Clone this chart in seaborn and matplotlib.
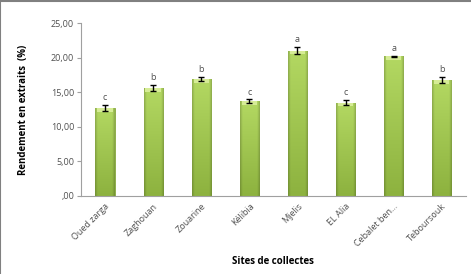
import numpy as np
import pandas as pd
import matplotlib
matplotlib.use("Agg")
import matplotlib.pyplot as plt
import seaborn as sns
from matplotlib.lines import Line2D
from matplotlib.colors import to_rgb

sites = ["Oued zarga", "Zaghouan", "Zouarine", "Kélibia", "Mjelis", "EL Alia", "Cebalet ben…", "Teboursouk"]
rendement = [12.75, 15.55, 16.90, 13.70, 21.00, 13.50, 20.20, 16.80]
erreur = [0.45, 0.45, 0.30, 0.25, 0.50, 0.40, 0.10, 0.45]
lettres = ["c", "b", "b", "c", "a", "c", "a", "b"]
yticks = [0, 5, 10, 15, 20, 25]
ytick_labels = [",00", "5,00", "10,00", "15,00", "20,00", "25,00"]

df = pd.DataFrame({"site": sites, "val": rendement})

sns.set_theme(style="white")
plt.rcParams["font.family"] = ["Open Sans", "DejaVu Sans"]

fig = plt.figure(figsize=(4.71, 2.74), dpi=100)
ax = fig.add_axes([0.172, 0.285, 0.817, 0.631])

sns.barplot(data=df, x="site", y="val", ax=ax, color="#9dc44d", width=0.4,
            edgecolor="#86a83c", linewidth=0.6, errorbar=None, zorder=2)

# shading texture for bars: lighter top, darker bottom, darker sides
top_c = np.array(to_rgb("#b3d862"))
bot_c = np.array(to_rgb("#8db23f"))
n_r, n_c = 60, 24
t = np.linspace(0, 1, n_r)[:, None, None]
img = top_c * (1 - t) + bot_c * t
img = np.repeat(img, n_c, axis=1)
cx = np.linspace(0, 1, n_c)
side = np.clip(1 - np.minimum(cx, 1 - cx) / 0.12, 0, 1)
img = img * (1 - 0.18 * side[None, :, None])
img = np.clip(img, 0, 1)

for p in ax.patches:
    x0, y0 = p.get_x(), p.get_y()
    w, h = p.get_width(), p.get_height()
    im = ax.imshow(img, extent=[x0, x0 + w, y0, y0 + h], aspect="auto",
                   zorder=2.5, interpolation="bilinear")
    im.set_clip_path(p)
    ax.fill_between([x0 + w * 0.1, x0 + w * 0.9], y0 + h - 0.55, y0 + h,
                    color="#d6ec96", zorder=2.6, lw=0)

xs = np.arange(len(sites))
ax.errorbar(xs, rendement, yerr=erreur, fmt="none", ecolor="black",
            elinewidth=1.0, capsize=2.3, capthick=1.0, zorder=4)
for x, v, e, l in zip(xs, rendement, erreur, lettres):
    ax.text(x, v + e + 0.4, l, ha="center", va="bottom", fontsize=6.5, color="#505050")

ax.set_xlim(-0.5, len(sites) - 0.5)
ax.set_ylim(0, 25)
ax.set_yticks(yticks)
ax.set_yticklabels(ytick_labels, fontsize=6.5, color="#505050")
ax.set_xticks(xs)
ax.set_xticklabels(sites, rotation=45, ha="right", rotation_mode="anchor",
                   fontsize=6.5, color="#505050")
ax.set_xticks(np.arange(len(sites) + 1) - 0.5, minor=True)
ax.tick_params(axis="x", which="major", length=0, pad=4)
ax.tick_params(axis="x", which="minor", length=3, color="#a0a0a0", width=0.8, direction="out")
ax.tick_params(axis="y", length=3, color="#a0a0a0", width=0.8, direction="out", pad=2, left=True)

for s in ["top", "right"]:
    ax.spines[s].set_visible(False)
for s in ["left", "bottom"]:
    ax.spines[s].set_color("#a0a0a0")
    ax.spines[s].set_linewidth(0.8)

ax.set_xlabel("Sites de collectes", fontsize=7, fontweight="bold", color="black")
ax.set_ylabel("Rendement en extraits  (%)", fontsize=7, fontweight="bold", color="black")
ax.xaxis.set_label_coords(0.5, -0.35)
ax.yaxis.set_label_coords(-0.135, 0.5)

# figure frame (top and left)
fig.add_artist(Line2D([0.001, 0.001], [0, 1], transform=fig.transFigure, color="#808080", lw=1.5))
fig.add_artist(Line2D([0, 1], [0.997, 0.997], transform=fig.transFigure, color="#808080", lw=1.5))

fig.savefig("out.png", dpi=100)
